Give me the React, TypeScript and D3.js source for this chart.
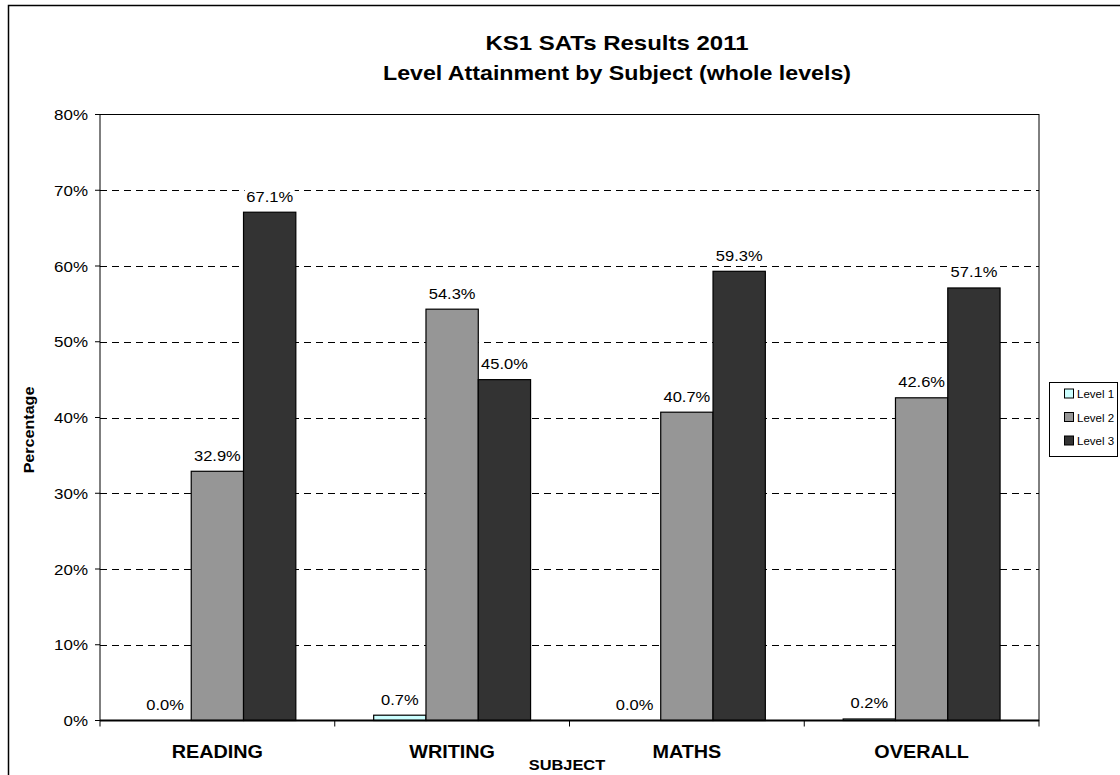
import React from "react";
import * as d3 from "d3";

const subjects = ["READING", "WRITING", "MATHS", "OVERALL"];
const levels = ["Level 1", "Level 2", "Level 3"];
const level1 = [0.0, 0.7, 0.0, 0.2];
const level2 = [32.9, 54.3, 40.7, 42.6];
const level3 = [67.1, 45.0, 59.3, 57.1];
const yTicks = [0, 10, 20, 30, 40, 50, 60, 70, 80];
const colors = ["#CCFFFF", "#969696", "#333333"];

const W = 1120;
const H = 775;
const plot = { left: 100, right: 1039, top: 114.5, bottom: 720.5 };
const font = "'Liberation Sans', Arial, sans-serif";

// the source picture is stretched sideways, so text is widened a bit
const Txt = ({ x, y, sx = 1.15, rotate = 0, children, ...rest }: any) => (
  <text
    transform={`translate(${x},${y}) rotate(${rotate}) scale(${sx},1)`}
    {...rest}
  >
    {children}
  </text>
);

const App = () => {
  const series = [level1, level2, level3];
  const x = d3.scaleBand().domain(subjects).range([plot.left, plot.right]);
  const y = d3.scaleLinear().domain([0, 80]).range([plot.bottom, plot.top]);

  const barW = 52.3;
  const groupOff = (x.bandwidth() - 3 * barW) / 2;

  return (
    <svg
      width={W}
      height={H}
      style={{ position: "fixed", left: 0, top: 0, background: "#fff" }}
      fontFamily={font}
    >
      <rect x={8.5} y={5.5} width={W} height={H} fill="#fff" stroke="#000" strokeWidth={1.5} />
      <Txt x={617} y={49.5} sx={1.2} textAnchor="middle" fontSize={20} fontWeight="bold">
        KS1 SATs Results 2011
      </Txt>
      <Txt x={617} y={79.5} sx={1.16} textAnchor="middle" fontSize={20} fontWeight="bold">
        Level Attainment by Subject (whole levels)
      </Txt>

      {/* grid lines */}
      {yTicks.slice(1, -1).map((t) => (
        <line
          key={"g" + t}
          x1={plot.left}
          x2={plot.right}
          y1={Math.round(y(t)) + 0.5}
          y2={Math.round(y(t)) + 0.5}
          stroke="#000"
          strokeDasharray="7,5"
        />
      ))}
      <rect
        x={plot.left}
        y={plot.top}
        width={plot.right - plot.left}
        height={plot.bottom - plot.top}
        fill="none"
        stroke="#000"
        strokeWidth={1}
      />

      {/* y axis */}
      {yTicks.map((t) => (
        <g key={"t" + t}>
          <line x1={95} x2={plot.left} y1={y(t)} y2={y(t)} stroke="#000" />
          <Txt x={88} y={y(t) + 5.5} sx={1.13} textAnchor="end" fontSize={15}>
            {t}%
          </Txt>
        </g>
      ))}

      {/* bars */}
      {subjects.map((s, i) =>
        series.map((vals, j) => {
          const v = vals[i];
          const bx = (x(s) as number) + groupOff + j * barW;
          const by = y(v);
          const label = v.toFixed(1) + "%";
          const ly = by - 10.5;
          return (
            <g key={s + j}>
              {v > 0 && (
                <rect
                  x={bx}
                  y={by}
                  width={barW}
                  height={plot.bottom - by}
                  fill={colors[j]}
                  stroke="#000"
                  strokeWidth={1.2}
                />
              )}
              <rect x={bx + barW / 2 - 25} y={ly - 14} width={50} height={18} fill="#fff" />
              <Txt x={bx + barW / 2} y={ly} sx={1.1} textAnchor="middle" fontSize={15}>
                {label}
              </Txt>
            </g>
          );
        })
      )}

      <line x1={plot.left} x2={plot.right} y1={plot.bottom} y2={plot.bottom} stroke="#000" strokeWidth={2} />
      {/* x ticks */}
      {subjects.concat(["end"]).map((s, i) => (
        <line
          key={"xt" + i}
          x1={plot.left + i * x.bandwidth()}
          x2={plot.left + i * x.bandwidth()}
          y1={plot.bottom}
          y2={plot.bottom + 6}
          stroke="#000"
        />
      ))}
      {subjects.map((s) => (
        <Txt
          key={"c" + s}
          x={(x(s) as number) + x.bandwidth() / 2}
          y={758}
          sx={1.1}
          textAnchor="middle"
          fontSize={18}
          fontWeight="bold"
        >
          {s}
        </Txt>
      ))}
      <Txt x={567} y={769.5} sx={1.17} textAnchor="middle" fontSize={14} fontWeight="bold">
        SUBJECT
      </Txt>
      <Txt x={34} y={430} rotate={-90} sx={1.15} textAnchor="middle" fontSize={14} fontWeight="bold">
        Percentage
      </Txt>

      {/* legend */}
      <rect x={1049.5} y={382.5} width={68} height={74} fill="#fff" stroke="#000" />
      {levels.map((l, j) => (
        <g key={l} transform={`translate(1064.5,${393.5 + j * 23.5})`}>
          <rect x={0} y={-4.5} width={9} height={9} fill={colors[j]} stroke="#000" />
          <text x={12.5} y={4.5} fontSize={11.5}>
            {l}
          </text>
        </g>
      ))}
    </svg>
  );
};

export default App;
